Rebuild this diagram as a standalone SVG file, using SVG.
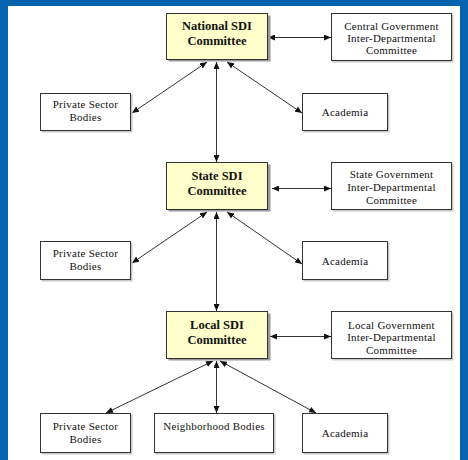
<svg xmlns="http://www.w3.org/2000/svg" width="468" height="460" viewBox="0 0 468 460">
<style>
.bg{fill:#ffffff}
.frame{fill:#0663b0}
.main{fill:#ffffcc;stroke:#333333;stroke-width:1}
.box{fill:#ffffff;stroke:#333333;stroke-width:1}
.sh{fill:#9a9a9a}
.shs{fill:#c8c8c8}
.t{font-family:"Liberation Serif","Times New Roman",serif;font-size:11px;letter-spacing:0.25px;fill:#111111;text-anchor:middle}
.tb{font-family:"Liberation Serif","Times New Roman",serif;font-size:12.5px;font-weight:bold;fill:#111111;text-anchor:middle}
.c{stroke:#333333;stroke-width:1;fill:none;marker-start:url(#ah);marker-end:url(#ah)}
</style>
<defs>
<marker id="ah" markerUnits="userSpaceOnUse" markerWidth="7" markerHeight="6" viewBox="0 0 7 6" refX="7" refY="3" orient="auto-start-reverse">
<path d="M0,0 L7,3 L0,6 z" fill="#111111"/>
</marker>
</defs>
<rect class="bg" x="0" y="0" width="468" height="460"/>
<rect class="frame" x="0" y="0" width="468" height="6"/>
<rect class="frame" x="0" y="0" width="8" height="460"/>
<rect class="frame" x="460" y="0" width="8" height="460"/>

<g id="connectors">
<line class="c" x1="268" y1="37.5" x2="331" y2="37.5"/>
<line class="c" x1="207" y1="62" x2="132" y2="113"/>
<line class="c" x1="227" y1="62" x2="302" y2="113"/>
<line class="c" x1="216.5" y1="62" x2="216.5" y2="162"/>
<line class="c" x1="272" y1="188.5" x2="331" y2="188.5"/>
<line class="c" x1="207" y1="212" x2="132" y2="263"/>
<line class="c" x1="227" y1="212" x2="302" y2="264"/>
<line class="c" x1="216.5" y1="212" x2="216.5" y2="311"/>
<line class="c" x1="270" y1="336.5" x2="331" y2="336.5"/>
<line class="c" x1="213" y1="361" x2="106" y2="413"/>
<line class="c" x1="216.5" y1="361" x2="216.5" y2="413"/>
<line class="c" x1="220" y1="361" x2="316" y2="413"/>
</g>

<g id="national">
<rect class="sh" x="168.5" y="15.5" width="102" height="46"/>
<rect class="main" x="166.5" y="13.5" width="101" height="46"/>
<text class="tb" x="217" y="29.5">National SDI</text>
<text class="tb" x="217" y="44.5">Committee</text>
</g>
<g id="central">
<rect class="shs" x="332.5" y="14.5" width="121" height="48"/>
<rect class="box" x="331.5" y="13.5" width="120" height="47"/>
<text class="t" x="391.5" y="29.5">Central Government</text>
<text class="t" x="391.5" y="41.5">Inter-Departmental</text>
<text class="t" x="391.5" y="54">Committee</text>
</g>
<g id="private1">
<rect class="shs" x="41.5" y="94.5" width="91" height="38"/>
<rect class="box" x="40.5" y="93.5" width="90" height="37"/>
<text class="t" x="85.5" y="108">Private Sector</text>
<text class="t" x="85.5" y="120.5">Bodies</text>
</g>
<g id="academia1">
<rect class="shs" x="303.5" y="94.5" width="86" height="38"/>
<rect class="box" x="302.5" y="93.5" width="85" height="37"/>
<text class="t" x="345" y="116">Academia</text>
</g>

<g id="state">
<rect class="sh" x="168.5" y="164.5" width="102" height="47"/>
<rect class="main" x="166.5" y="162.5" width="101" height="47"/>
<text class="tb" x="217" y="180">State SDI</text>
<text class="tb" x="217" y="195">Committee</text>
</g>
<g id="stategov">
<rect class="shs" x="332.5" y="163.5" width="121" height="48"/>
<rect class="box" x="331.5" y="162.5" width="120" height="47"/>
<text class="t" x="391.5" y="178">State Government</text>
<text class="t" x="391.5" y="191">Inter-Departmental</text>
<text class="t" x="391.5" y="204">Committee</text>
</g>
<g id="private2">
<rect class="shs" x="41.5" y="242.5" width="91" height="39"/>
<rect class="box" x="40.5" y="241.5" width="90" height="38"/>
<text class="t" x="85.5" y="257">Private Sector</text>
<text class="t" x="85.5" y="269.5">Bodies</text>
</g>
<g id="academia2">
<rect class="shs" x="303.5" y="242.5" width="86" height="39"/>
<rect class="box" x="302.5" y="241.5" width="85" height="38"/>
<text class="t" x="345" y="264.5">Academia</text>
</g>

<g id="local">
<rect class="sh" x="168.5" y="313.5" width="102" height="47"/>
<rect class="main" x="166.5" y="311.5" width="101" height="47"/>
<text class="tb" x="217" y="328.5">Local SDI</text>
<text class="tb" x="217" y="343.5">Committee</text>
</g>
<g id="localgov">
<rect class="shs" x="332.5" y="312.5" width="121" height="48"/>
<rect class="box" x="331.5" y="311.5" width="120" height="47"/>
<text class="t" x="391.5" y="328.5">Local Government</text>
<text class="t" x="391.5" y="341">Inter-Departmental</text>
<text class="t" x="391.5" y="354">Committee</text>
</g>
<g id="private3">
<rect class="shs" x="41.5" y="414.5" width="91" height="40"/>
<rect class="box" x="40.5" y="413.5" width="90" height="39"/>
<text class="t" x="85.5" y="430">Private Sector</text>
<text class="t" x="85.5" y="443">Bodies</text>
</g>
<g id="neighborhood">
<rect class="shs" x="155.5" y="414.5" width="120" height="40"/>
<rect class="box" x="154.5" y="413.5" width="119" height="39"/>
<text class="t" x="214" y="429.5">Neighborhood Bodies</text>
</g>
<g id="academia3">
<rect class="shs" x="303.5" y="414.5" width="86" height="40"/>
<rect class="box" x="302.5" y="413.5" width="85" height="39"/>
<text class="t" x="345" y="436.5">Academia</text>
</g>
</svg>
